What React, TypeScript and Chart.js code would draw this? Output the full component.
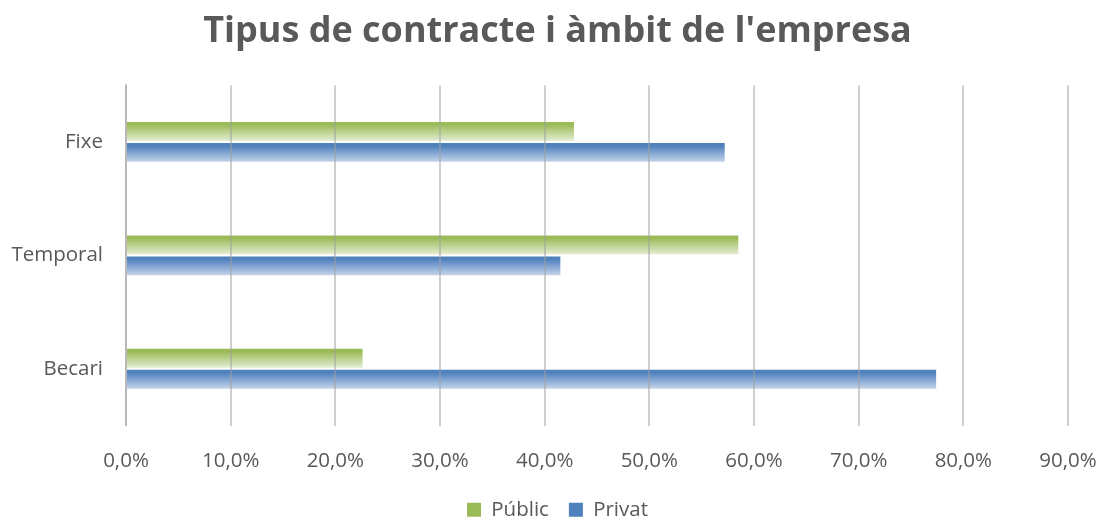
import React, { useEffect, useRef } from "react";
import { Chart, registerables } from "chart.js";

Chart.register(...registerables);

const categories = ["Fixe", "Temporal", "Becari"];
const publicValues = [42.8, 58.5, 22.6];
const privateValues = [57.2, 41.5, 77.4];
const seriesNames = ["Públic", "Privat"];
const xTicks = [0, 10, 20, 30, 40, 50, 60, 70, 80, 90];

const CAT_PCT = 0.37;
const BAR_PCT = 0.9;
const FONT = "'Open Sans'";
const CANVAS_W = 1115;

function barGradient(ctx: any, top: string, bottom: string) {
  const chart = ctx.chart;
  const y = chart.scales?.y;
  if (!y || ctx.type !== "data") return top;
  const j = ctx.dataIndex;
  const i = ctx.datasetIndex;
  const catW = Math.abs(y.getPixelForValue(1) - y.getPixelForValue(0));
  const center = y.getPixelForValue(j);
  const chunk = (catW * CAT_PCT) / 2;
  const start = center - (catW * CAT_PCT) / 2 + i * chunk;
  const bt = start + (chunk * (1 - BAR_PCT)) / 2;
  const bb = bt + chunk * BAR_PCT;
  if (!isFinite(bt) || !isFinite(bb)) return top;
  const g = chart.ctx.createLinearGradient(0, bt, 0, bb);
  g.addColorStop(0, top);
  g.addColorStop(0.15, top);
  g.addColorStop(1, bottom);
  return g;
}

export default function App() {
  const ref = useRef<HTMLCanvasElement>(null);
  useEffect(() => {
    if (!ref.current) return;
    const chart = new Chart(ref.current, {
      type: "bar",
      data: {
        labels: categories,
        datasets: [
          {
            label: seriesNames[0],
            data: publicValues,
            backgroundColor: (c: any) => barGradient(c, "#9bbb59", "#e4edd2"),
            borderWidth: 0,
            categoryPercentage: CAT_PCT,
            barPercentage: BAR_PCT,
          },
          {
            label: seriesNames[1],
            data: privateValues,
            backgroundColor: (c: any) => barGradient(c, "#4f81bd", "#c4d4ea"),
            borderWidth: 0,
            categoryPercentage: CAT_PCT,
            barPercentage: BAR_PCT,
          },
        ],
      },
      options: {
        indexAxis: "y",
        animation: false,
        responsive: false,
        layout: { padding: { left: 0, right: 0, top: 10, bottom: -13 } },
        plugins: {
          title: {
            display: true,
            text: "Tipus de contracte i àmbit de l'empresa",
            color: "#595959",
            font: { family: FONT, size: 36, weight: "bold" },
            padding: { top: 0, bottom: 32 },
          },
          legend: {
            position: "bottom",
            labels: {
              color: "#595959",
              font: { family: FONT, size: 20.5 },
              boxWidth: 14,
              boxHeight: 14,
              padding: 20,
              generateLabels: (ch: any) =>
                ch.data.datasets.map((d: any, i: number) => ({
                  text: d.label,
                  fillStyle: i === 0 ? "#9bbb59" : "#4f81bd",
                  strokeStyle: "rgba(0,0,0,0)",
                  lineWidth: 0,
                  fontColor: "#595959",
                  datasetIndex: i,
                  hidden: false,
                })),
            },
          },
          tooltip: { enabled: false },
        },
        scales: {
          x: {
            min: 0,
            max: 90,
            afterBuildTicks: (s: any) => {
              s.ticks = xTicks.map((v) => ({ value: v }));
            },
            afterFit: (s: any) => {
              s.height = 54;
              s.paddingRight = CANVAS_W - 1068;
            },
            ticks: {
              color: "#595959",
              font: { family: FONT, size: 20.5 },
              padding: 23,
              callback: (v: any) => Number(v).toFixed(1).replace(".", ",") + "%",
            },
            grid: { color: "rgba(160,160,160,0.5)", lineWidth: 2, drawTicks: false, z: 1 },
            border: { display: false },
          },
          y: {
            ticks: {
              color: "#595959",
              font: { family: FONT, size: 20.5 },
              padding: 15,
            },
            afterFit: (s: any) => {
              s.width = 126;
            },
            grid: { display: false },
            border: { color: "#d0d0d0", width: 2 },
          },
        },
      },
    } as any);
    return () => chart.destroy();
  }, []);
  return (
    <div
      style={{
        position: "fixed",
        left: 0,
        top: 0,
        width: 1099,
        height: 517,
        overflow: "hidden",
        background: "#fff",
      }}
    >
      <canvas ref={ref} width={CANVAS_W} height={517} style={{ display: "block" }} />
    </div>
  );
}
